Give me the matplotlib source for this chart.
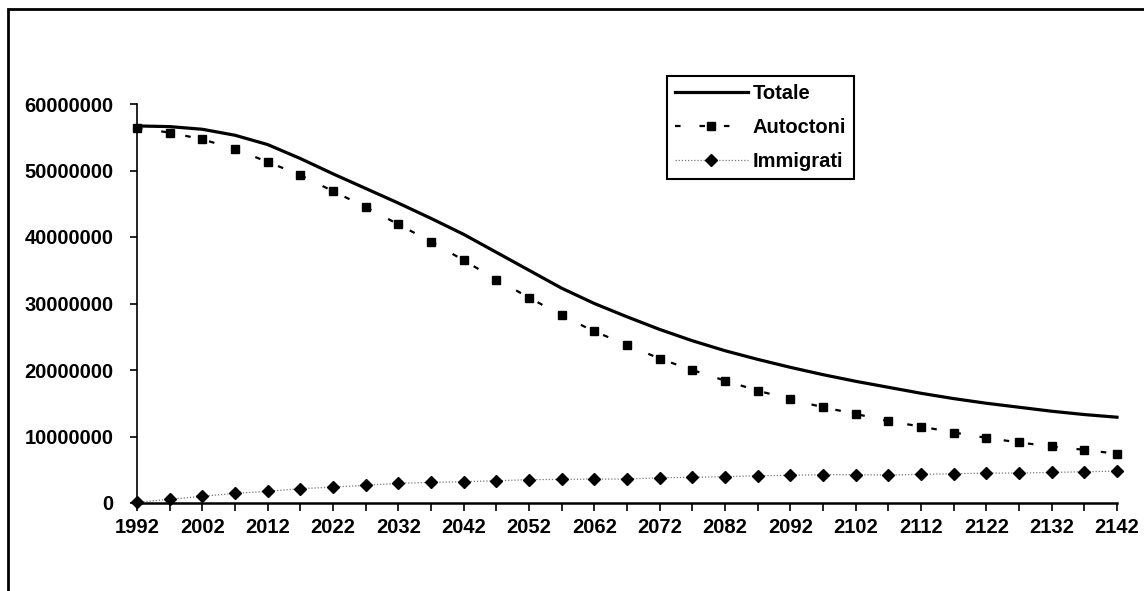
import numpy as np
import matplotlib
matplotlib.use('Agg')
import matplotlib.pyplot as plt
from matplotlib.patches import Rectangle
from matplotlib.ticker import FuncFormatter, MultipleLocator, FixedLocator

plt.rcParams['font.family'] = ['Liberation Sans', 'DejaVu Sans']

# anni: ogni 5 anni dal 1992 al 2142
anni = list(range(1992, 2143, 5))
etichette = list(range(1992, 2143, 10))

totale = [56.7, 56.6, 56.2, 55.3, 53.9, 51.8, 49.5, 47.3, 45.1, 42.8,
          40.4, 37.7, 35.0, 32.3, 30.0, 28.0, 26.1, 24.4, 22.9, 21.6,
          20.4, 19.3, 18.3, 17.4, 16.5, 15.7, 15.0, 14.4, 13.8, 13.3, 12.9]
autoctoni = [56.4, 55.7, 54.7, 53.2, 51.3, 49.3, 46.9, 44.5, 41.9, 39.3,
             36.5, 33.6, 30.9, 28.2, 25.8, 23.8, 21.7, 20.0, 18.4, 16.9,
             15.6, 14.4, 13.4, 12.3, 11.5, 10.6, 9.8, 9.1, 8.5, 8.0, 7.4]
immigrati = [0.1, 0.56, 1.0, 1.46, 1.76, 2.15, 2.4, 2.66, 2.96, 3.1,
             3.2, 3.35, 3.5, 3.56, 3.6, 3.6, 3.8, 3.86, 3.96, 4.1,
             4.16, 4.26, 4.26, 4.2, 4.3, 4.4, 4.5, 4.5, 4.6, 4.7, 4.8]

totale = np.array(totale) * 1e6
autoctoni = np.array(autoctoni) * 1e6
immigrati = np.array(immigrati) * 1e6

fig = plt.figure(figsize=(11.44, 5.91), dpi=100)
ax = fig.add_axes([137/1144, 1 - 503/591, (1117 - 137)/1144, (503 - 104)/591])

ax.plot(anni, totale, '-', color='black', lw=2.3, label='Totale', clip_on=False)
ax.plot(anni, autoctoni, color='black', lw=1.6, linestyle=(0, (2.5, 8.5)),
        marker='s', ms=5.5, label='Autoctoni', clip_on=False)
ax.plot(anni, immigrati, color='#777777', lw=0.9, linestyle=(0, (1, 1.5)),
        marker='D', ms=6, mfc='black', mec='black', label='Immigrati', clip_on=False)

ax.set_xlim(1992, 2142)
ax.set_ylim(0, 60000000)
ax.xaxis.set_major_locator(FixedLocator(etichette))
ax.xaxis.set_minor_locator(FixedLocator(anni))
ax.yaxis.set_major_locator(MultipleLocator(10000000))
ax.yaxis.set_major_formatter(FuncFormatter(lambda v, p: '%d' % v))

for s in ['top', 'right']:
    ax.spines[s].set_visible(False)
ax.spines['left'].set_linewidth(1.2)
ax.spines['bottom'].set_linewidth(1.8)

ax.tick_params(axis='x', which='both', direction='out', length=6, width=1.2, pad=5)
ax.tick_params(axis='y', direction='out', length=5, width=1.2, pad=12)
for lab in ax.get_xticklabels() + ax.get_yticklabels():
    lab.set_fontsize(14.5)
    lab.set_fontweight('bold')

leg = ax.legend(loc='upper left', bbox_to_anchor=(667/1144, 1 - 76/591),
                bbox_transform=fig.transFigure, borderaxespad=0,
                prop={'size': 14.5, 'weight': 'bold'}, handlelength=3.6,
                handletextpad=0.25, labelspacing=0.75, fancybox=False,
                framealpha=1, edgecolor='black', borderpad=0.4)
leg.get_frame().set_linewidth(1.5)

# cornice del grafico
fig.add_artist(Rectangle((8/1144, -0.1), 1.2, 1.1 - 9/591, transform=fig.transFigure,
                         fill=False, lw=2, edgecolor='black'))

fig.savefig('out.png', dpi=100)
